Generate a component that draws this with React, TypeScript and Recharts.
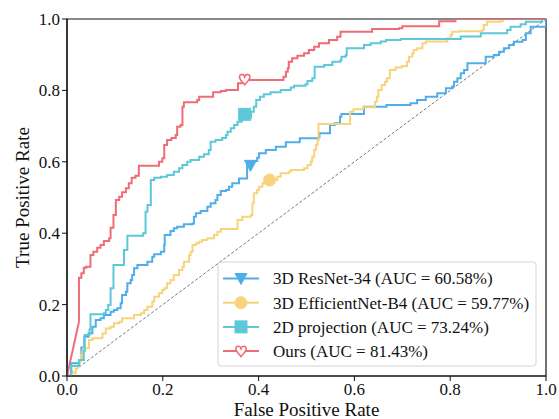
import React from 'react';
import { ComposedChart, Line, Scatter, XAxis, YAxis, ReferenceArea } from 'recharts';

const axisTicks = [0, 0.2, 0.4, 0.6, 0.8, 1.0];
const seriesNames = [
  '3D ResNet-34 (AUC = 60.58%)',
  '3D EfficientNet-B4 (AUC = 59.77%)',
  '2D projection (AUC = 73.24%)',
  'Ours (AUC = 81.43%)',
];
const seriesColors = ['#4FAEEA', '#F8D37E', '#5DC8D9', '#EF6C76'];
const markerKinds = ['triangle', 'circle', 'square', 'heart'];

const resnetRoc: [number, number][] = [
  [0, 0], [0.009, 0.036], [0.026, 0.045], [0.03, 0.08], [0.036, 0.11], [0.045, 0.12],
  [0.053, 0.138], [0.06, 0.157], [0.07, 0.162], [0.077, 0.171], [0.091, 0.18], [0.098, 0.185],
  [0.105, 0.19], [0.112, 0.204], [0.115, 0.227], [0.123, 0.236], [0.126, 0.26], [0.133, 0.269],
  [0.136, 0.283], [0.14, 0.302], [0.147, 0.311], [0.168, 0.32], [0.178, 0.334], [0.182, 0.341],
  [0.196, 0.348], [0.203, 0.367], [0.204, 0.395], [0.216, 0.406], [0.223, 0.414], [0.23, 0.418],
  [0.244, 0.425], [0.262, 0.427], [0.265, 0.446], [0.269, 0.456], [0.279, 0.462], [0.293, 0.474],
  [0.3, 0.484], [0.31, 0.493], [0.314, 0.507], [0.321, 0.518], [0.332, 0.521], [0.338, 0.53],
  [0.345, 0.54], [0.359, 0.553], [0.376, 0.591], [0.387, 0.602], [0.397, 0.611], [0.401, 0.624],
  [0.415, 0.633], [0.436, 0.642], [0.457, 0.655], [0.486, 0.666], [0.525, 0.668], [0.527, 0.68],
  [0.549, 0.703], [0.559, 0.708], [0.57, 0.726], [0.573, 0.734], [0.62, 0.754], [0.667, 0.759],
  [0.717, 0.764], [0.731, 0.773], [0.749, 0.782], [0.773, 0.792], [0.791, 0.806], [0.804, 0.811],
  [0.808, 0.824], [0.815, 0.834], [0.822, 0.848], [0.829, 0.857], [0.836, 0.876], [0.874, 0.894],
  [0.891, 0.899], [0.902, 0.908], [0.912, 0.918], [0.923, 0.927], [0.933, 0.936], [0.951, 0.941],
  [0.958, 0.96], [0.968, 0.978], [1, 0.978], [1, 1],
];

const effnetRoc: [number, number][] = [
  [0, 0], [0.008, 0.008], [0.018, 0.021], [0.022, 0.031], [0.025, 0.04], [0.029, 0.059],
  [0.032, 0.068], [0.035, 0.078], [0.046, 0.101], [0.053, 0.106], [0.074, 0.119], [0.081, 0.133],
  [0.091, 0.138], [0.098, 0.148], [0.109, 0.152], [0.115, 0.162], [0.14, 0.171], [0.154, 0.176],
  [0.161, 0.185], [0.168, 0.194], [0.178, 0.208], [0.182, 0.222], [0.192, 0.232], [0.199, 0.241],
  [0.203, 0.246], [0.209, 0.26], [0.216, 0.269], [0.223, 0.283], [0.234, 0.297], [0.241, 0.306],
  [0.244, 0.32], [0.255, 0.339], [0.258, 0.348], [0.262, 0.367], [0.269, 0.372], [0.276, 0.376],
  [0.282, 0.381], [0.293, 0.386], [0.307, 0.395], [0.314, 0.404], [0.321, 0.412], [0.356, 0.437],
  [0.366, 0.446], [0.384, 0.451], [0.387, 0.484], [0.39, 0.512], [0.397, 0.521], [0.401, 0.53],
  [0.408, 0.54], [0.424, 0.549], [0.439, 0.558], [0.446, 0.568], [0.463, 0.572], [0.467, 0.577],
  [0.495, 0.582], [0.502, 0.591], [0.509, 0.6], [0.512, 0.614], [0.516, 0.633], [0.52, 0.647],
  [0.523, 0.661], [0.525, 0.706], [0.591, 0.74], [0.598, 0.747], [0.618, 0.753], [0.643, 0.768],
  [0.647, 0.782], [0.65, 0.801], [0.657, 0.815], [0.664, 0.824], [0.668, 0.834], [0.674, 0.857],
  [0.686, 0.864], [0.699, 0.868], [0.71, 0.88], [0.714, 0.894], [0.721, 0.904], [0.724, 0.913],
  [0.731, 0.918], [0.742, 0.932], [0.749, 0.937], [0.794, 0.946], [0.801, 0.955], [0.804, 0.964],
  [0.818, 0.966], [0.867, 0.969], [0.87, 0.983], [0.877, 0.992], [0.905, 0.994], [0.91, 1], [1, 1],
];

const projectionRoc: [number, number][] = [
  [0, 0], [0.008, 0.028], [0.025, 0.045], [0.035, 0.07], [0.037, 0.115], [0.047, 0.13],
  [0.049, 0.173], [0.077, 0.176], [0.081, 0.185], [0.086, 0.199], [0.091, 0.246], [0.097, 0.311],
  [0.119, 0.353], [0.126, 0.393], [0.159, 0.4], [0.164, 0.46], [0.168, 0.479], [0.175, 0.549],
  [0.182, 0.555], [0.196, 0.558], [0.209, 0.563], [0.223, 0.572], [0.234, 0.582], [0.241, 0.591],
  [0.251, 0.6], [0.258, 0.605], [0.276, 0.614], [0.286, 0.621], [0.296, 0.633], [0.3, 0.656],
  [0.31, 0.661], [0.324, 0.667], [0.332, 0.675], [0.335, 0.684], [0.342, 0.694], [0.349, 0.703],
  [0.356, 0.712], [0.365, 0.725], [0.384, 0.74], [0.39, 0.754], [0.395, 0.773], [0.403, 0.782],
  [0.411, 0.789], [0.425, 0.795], [0.446, 0.801], [0.467, 0.808], [0.474, 0.813], [0.498, 0.817],
  [0.502, 0.826], [0.512, 0.834], [0.517, 0.866], [0.537, 0.871], [0.554, 0.88], [0.571, 0.885],
  [0.573, 0.894], [0.582, 0.899], [0.584, 0.918], [0.62, 0.927], [0.634, 0.932], [0.655, 0.937],
  [0.666, 0.941], [0.697, 0.944], [0.822, 0.951], [0.864, 0.96], [0.919, 0.969], [0.926, 0.978],
  [0.947, 0.985], [0.958, 0.992], [0.992, 1], [1, 1],
];

const oursRoc: [number, number][] = [
  [0, 0], [0.025, 0.152], [0.025, 0.275], [0.03, 0.288], [0.035, 0.303], [0.04, 0.306],
  [0.049, 0.339], [0.055, 0.348], [0.063, 0.359], [0.07, 0.367], [0.077, 0.378], [0.088, 0.386],
  [0.091, 0.415], [0.097, 0.451], [0.102, 0.493], [0.109, 0.502], [0.115, 0.515], [0.123, 0.526],
  [0.129, 0.54], [0.135, 0.555], [0.143, 0.561], [0.15, 0.589], [0.192, 0.6], [0.199, 0.61],
  [0.203, 0.647], [0.209, 0.661], [0.218, 0.667], [0.227, 0.675], [0.23, 0.698], [0.237, 0.703],
  [0.241, 0.754], [0.244, 0.767], [0.272, 0.773], [0.276, 0.782], [0.305, 0.795], [0.321, 0.798],
  [0.332, 0.801], [0.357, 0.82], [0.365, 0.829], [0.452, 0.838], [0.457, 0.852], [0.461, 0.862],
  [0.463, 0.88], [0.47, 0.89], [0.481, 0.897], [0.495, 0.904], [0.505, 0.913], [0.516, 0.922],
  [0.526, 0.932], [0.547, 0.941], [0.564, 0.95], [0.571, 0.964], [0.637, 0.972], [0.693, 0.974],
  [0.7, 0.98], [0.777, 0.994], [0.811, 1], [1, 1],
];

const chanceLine: [number, number][] = [[0, 0], [1, 1]];

// number of leading points joined by a straight (not stepped) segment
const straightLead = [0, 0, 0, 2];

// operating points drawn as single markers
const operatingPoints: [number, number][] = [
  [0.383, 0.59],
  [0.423, 0.549],
  [0.371, 0.733],
  [0.371, 0.831],
];

const curves = [resnetRoc, effnetRoc, projectionRoc, oursRoc];
const toRows = (pts: [number, number][]) => pts.map(([x, y]) => ({ x, y }));

const FONT = 'Liberation Serif';

function MarkerShape({ kind, cx, cy, color }: { kind: string; cx: number; cy: number; color: string }) {
  if (kind === 'triangle') {
    return <polygon points={`${cx - 6},${cy - 5} ${cx + 6},${cy - 5} ${cx},${cy + 6}`} fill={color} stroke={color} strokeWidth={1} />;
  }
  if (kind === 'circle') {
    return <circle cx={cx} cy={cy} r={6} fill={color} stroke={color} />;
  }
  if (kind === 'square') {
    return <rect x={cx - 6} y={cy - 6} width={12} height={12} fill={color} stroke={color} />;
  }
  const s = 5.2;
  const d = `M ${cx} ${cy + s * 1.05}
    C ${cx - s * 0.3} ${cy + s * 0.6}, ${cx - s} ${cy + s * 0.1}, ${cx - s} ${cy - s * 0.45}
    C ${cx - s} ${cy - s * 1.05}, ${cx - s * 0.2} ${cy - s * 1.15}, ${cx} ${cy - s * 0.5}
    C ${cx + s * 0.2} ${cy - s * 1.15}, ${cx + s} ${cy - s * 1.05}, ${cx + s} ${cy - s * 0.45}
    C ${cx + s} ${cy + s * 0.1}, ${cx + s * 0.3} ${cy + s * 0.6}, ${cx} ${cy + s * 1.05} Z`;
  return <path d={d} fill="#fff" stroke={color} strokeWidth={1.6} />;
}

function LegendBox() {
  return (
    <svg width={320} height={106} style={{ position: 'absolute', left: 217, top: 261 }}>
      <rect x={1} y={1} width={318} height={104} rx={3} ry={3} fill="#fff" fillOpacity={0.85} stroke="#d4d4d4" strokeWidth={1} />
      {seriesNames.map((name, i) => {
        const cy = 17.5 + i * 24.2;
        return (
          <g key={name}>
            <line x1={6} x2={42} y1={cy} y2={cy} stroke={seriesColors[i]} strokeWidth={2} />
            <MarkerShape kind={markerKinds[i]} cx={24} cy={cy} color={seriesColors[i]} />
            <text x={56} y={cy + 5.8} fontSize={17} fontFamily={FONT} style={{ fontFamily: FONT }} fill="#111">{name}</text>
          </g>
        );
      })}
    </svg>
  );
}

export default function App() {
  const tickStyle = { fontSize: 17, fill: '#111', fontFamily: FONT, style: { fontFamily: FONT } };
  return (
    <div style={{ position: 'absolute', left: 0, top: 0, width: 559, height: 419, background: '#fff', fontFamily: FONT }}>
      <ComposedChart width={559} height={419} margin={{ top: 19, right: 13, bottom: 0, left: 0 }} style={{ fontFamily: FONT }}>
        <XAxis
          type="number"
          dataKey="x"
          domain={[0, 1]}
          ticks={axisTicks}
          allowDataOverflow
          tickFormatter={(v: number) => v.toFixed(1)}
          height={43}
          tick={tickStyle}
          tickSize={5}
          tickLine={{ stroke: '#111' }}
          axisLine={{ stroke: '#111', strokeWidth: 1.2 }}
          label={{ value: 'False Positive Rate', position: 'insideBottom', offset: 3, fontSize: 19, fill: '#111', fontFamily: FONT }}
        />
        <YAxis
          type="number"
          dataKey="y"
          domain={[0, 1]}
          ticks={axisTicks}
          allowDataOverflow
          tickFormatter={(v: number) => v.toFixed(1)}
          width={67}
          tick={tickStyle}
          tickSize={5}
          tickLine={{ stroke: '#111' }}
          axisLine={{ stroke: '#111', strokeWidth: 1.2 }}
          label={{ value: 'True Positive Rate', angle: -90, position: 'insideLeft', offset: 22, fontSize: 19, fill: '#111', fontFamily: FONT, style: { textAnchor: 'middle' } }}
        />
        <Line
          data={toRows(chanceLine)}
          dataKey="y"
          type="linear"
          stroke="#777"
          strokeWidth={1}
          strokeDasharray="3 2"
          dot={false}
          isAnimationActive={false}
        />
        {curves.map((pts, i) =>
          straightLead[i] > 1 ? (
            <Line
              key={'lead' + i}
              data={toRows(pts.slice(0, straightLead[i]))}
              dataKey="y"
              type="linear"
              stroke={seriesColors[i]}
              strokeWidth={2}
              dot={false}
              isAnimationActive={false}
            />
          ) : null
        )}
        {curves.map((pts, i) => (
          <Line
            key={seriesNames[i]}
            data={toRows(straightLead[i] > 1 ? pts.slice(straightLead[i] - 1) : pts)}
            dataKey="y"
            type="stepAfter"
            stroke={seriesColors[i]}
            strokeWidth={2}
            dot={false}
            isAnimationActive={false}
          />
        ))}
        {operatingPoints.map((p, i) => (
          <Scatter
            key={'m' + i}
            data={toRows([p])}
            dataKey="y"
            isAnimationActive={false}
            shape={(props: any) => <MarkerShape kind={markerKinds[i]} cx={props.cx} cy={props.cy} color={seriesColors[i]} />}
          />
        ))}
        <ReferenceArea x1={0} x2={1} y1={0} y2={1} fill="none" stroke="#111" strokeWidth={1.2} ifOverflow="visible" />
      </ComposedChart>
      <LegendBox />
    </div>
  );
}
